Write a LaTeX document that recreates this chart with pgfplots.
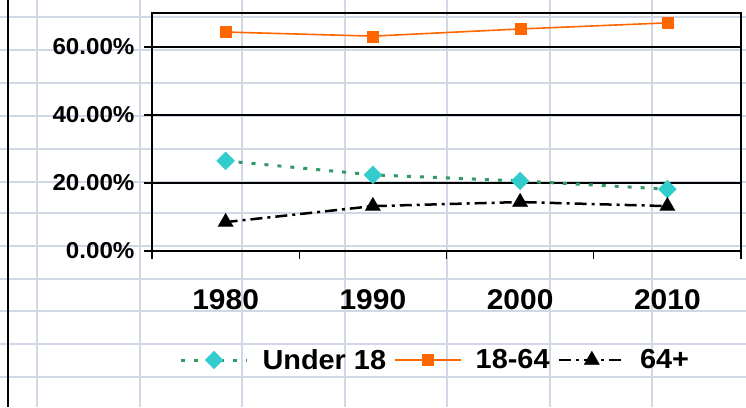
\documentclass[border=0pt]{standalone}
\usepackage{fontspec}
\setmainfont{Liberation Sans}[FakeStretch=1.05]
\usepackage{pgfplots}
\pgfplotsset{compat=1.18}
\definecolor{cellgrid}{HTML}{D0D7E5}
\definecolor{cyanmk}{HTML}{33CCCC}
\definecolor{greenln}{HTML}{339966}
\definecolor{orangeln}{HTML}{FF6600}

\begin{document}
\begin{tikzpicture}[x=1pt,y=1pt]
\useasboundingbox (0,0) rectangle (746,407);
\fill[white] (0,0) rectangle (746,407);
% spreadsheet cells behind the chart
\foreach \x in {37,140,242,345,447,550,652}
  \draw[cellgrid,line width=1.5pt] (\x,0) -- (\x,407);
\foreach \y in {17,50,83,116,149,182,213,246,279,311,344,377}
  \draw[cellgrid,line width=1.5pt] (0,{407-\y}) -- (746,{407-\y});
\draw[black,line width=2pt] (8,0) -- (8,407);

\begin{axis}[
    at={(152pt,156pt)}, anchor=south west,
    scale only axis,
    width=589pt, height=238pt,
    xmin=-0.5, xmax=3.5,
    ymin=0, ymax=70,
    xtick={-0.5,0.5,1.5,2.5,3.5},
    x tick label as interval,
    xticklabels={1980,1990,2000,2010},
    ytick={0,20,40,60},
    yticklabels={0.00\%,20.00\%,40.00\%,60.00\%},
    xtick pos=bottom, ytick pos=left,
    tick align=outside,
    major tick length=8pt,
    ymajorgrids=true,
    grid style={black, line width=1.3pt},
    axis line style={black, line width=1.3pt},
    tick style={black, line width=1.3pt},
    xticklabel style={font=\fontsize{28.5}{31}\selectfont\bfseries, yshift=-27pt},
    yticklabel style={font=\fontsize{23}{26}\selectfont\bfseries, xshift=-6pt},
    legend columns=3,
    legend style={at={(0.481,-0.458)}, anchor=center, draw=none, fill=none,
        font=\fontsize{27.5}{30}\selectfont\bfseries,
        /tikz/every even column/.append style={column sep=6pt},
        /tikz/every odd column/.append style={column sep=12pt}},
    legend image code/.code={
        \draw[mark repeat=2, mark phase=2, #1] plot coordinates {(0pt,0pt) (33pt,0pt) (66pt,0pt)};
    },
]

\addplot[color=greenln, line width=3pt, dash pattern=on 4pt off 9pt,
    mark=square*, mark size=6.4pt,
    mark options={solid, fill=cyanmk, draw=cyanmk, line width=0.1pt, rotate=45}]
    coordinates {(0,26.5)(1,22.4)(2,20.6)(3,18.2)};
\addlegendentry{Under 18}

\addplot[color=orangeln, line width=1.6pt,
    mark=square*, mark size=5.5pt,
    mark options={solid, fill=orangeln, draw=orangeln, line width=0.1pt}]
    coordinates {(0,64.4)(1,63.2)(2,65.3)(3,67.1)};
\addlegendentry{18-64}

\addplot[color=black, line width=2.5pt, dash pattern=on 12pt off 5pt on 3pt off 5pt,
    mark=triangle*, mark size=9pt,
    mark options={solid, fill=black, line width=0.1pt}]
    coordinates {(0,8.5)(1,13.2)(2,14.4)(3,13.2)};
\addlegendentry{64+}

\end{axis}
\end{tikzpicture}
\end{document}
